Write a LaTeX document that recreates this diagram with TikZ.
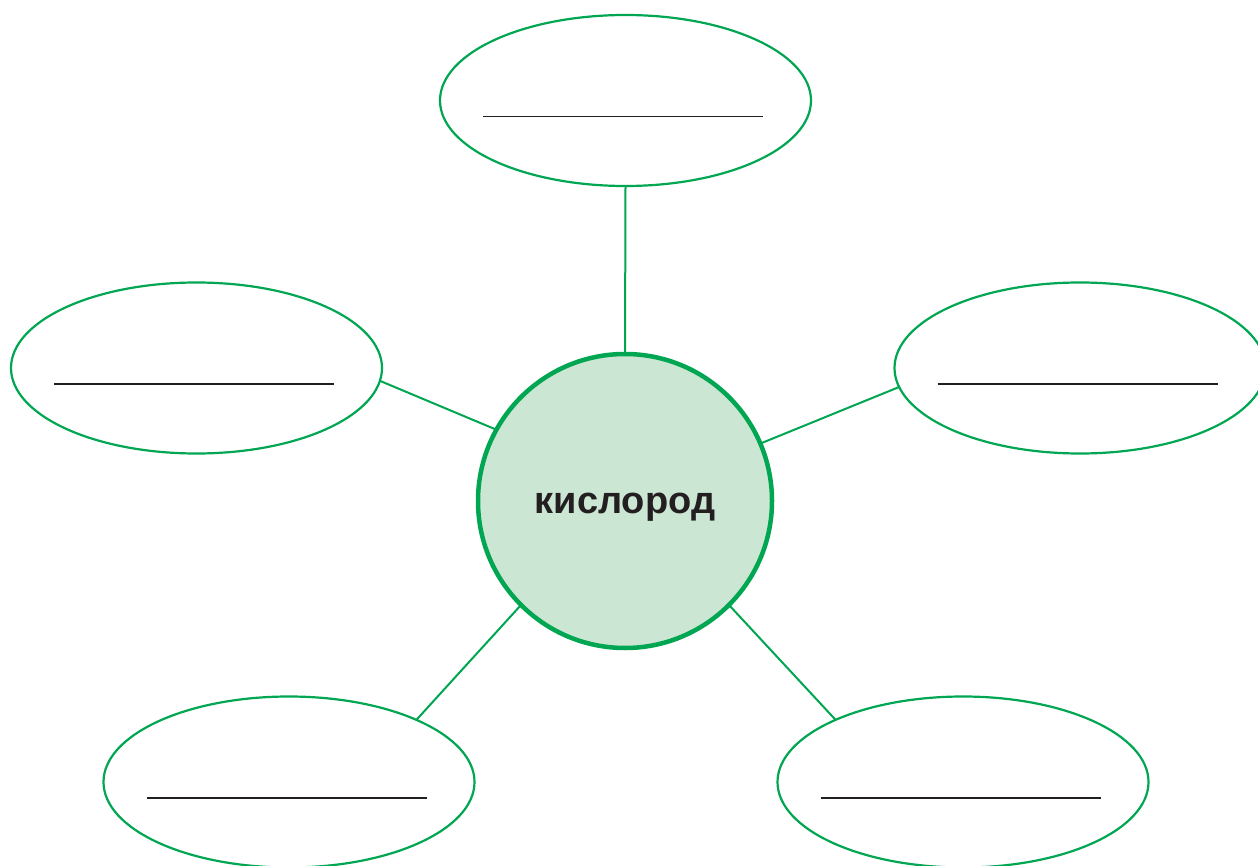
\documentclass[tikz,border=0pt]{standalone}
\usepackage{fontspec}
\setmainfont{Liberation Sans}
\usetikzlibrary{shapes.geometric}
\definecolor{grn}{HTML}{00A651}
\definecolor{lgrn}{HTML}{CCE6D4}
\definecolor{ink}{HTML}{231F20}
\tikzset{
  oval/.style={ellipse, draw=grn, line width=2.2pt, minimum width=371pt, minimum height=171pt, inner sep=0pt, outer sep=0pt},
  hub/.style={circle, draw=grn, fill=lgrn, line width=4.5pt, minimum size=294pt, inner sep=0pt, outer sep=0pt},
  hubtext/.style={inner sep=0pt, font=\bfseries\fontsize{38}{46}\selectfont, text=ink},
  link/.style={draw=grn, line width=2pt},
  blank/.style={draw=ink, line width=1.8pt}
}
\begin{document}
\begin{tikzpicture}[x=1pt,y=-1pt]
\useasboundingbox (0,0) rectangle (1258,866);
\node[hub] (c) at (625,501) {};
\node[hubtext] (lbl) at ([yshift=-6pt]c.center) {кислород};
\node[oval] (t) at (625.5,100.5) {};
\node[oval] (l) at (196.5,368) {};
\node[oval] (r) at (1080,368) {};
\node[oval] (bl) at (289,782) {};
\node[oval] (br) at (963,782) {};
\draw[link] (c.90) -- (t.270);
\draw[link] (c.151) -- (l.-4);
\draw[link] (c.23.6) -- (r.-174.4);
\draw[link] (c.-135) -- (bl.26);
\draw[link] (c.-45) -- (br.154.7);
\foreach \n in {t,l,r,bl,br}{
  \draw[blank] ([xshift=-142.5pt,yshift=-16pt]\n.center) -- ([xshift=137.5pt,yshift=-16pt]\n.center);
}
\end{tikzpicture}
\end{document}
